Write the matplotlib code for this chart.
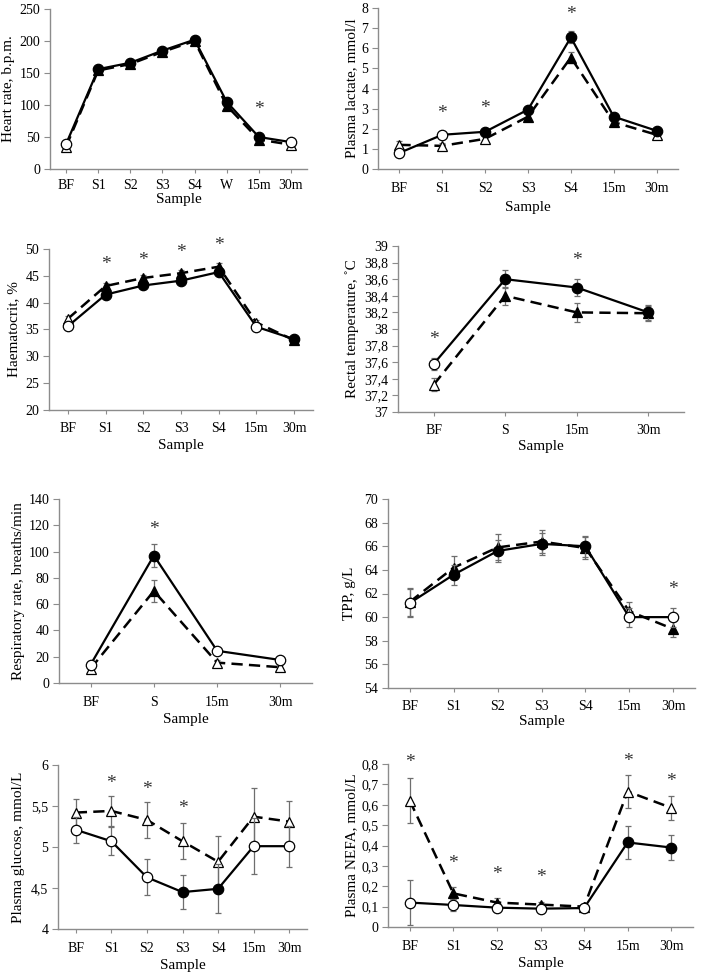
import matplotlib
matplotlib.use('Agg')
import matplotlib.pyplot as plt
from matplotlib.ticker import FixedLocator

plt.rcParams['font.family'] = ['Liberation Serif', 'DejaVu Serif']

W, H = 709, 974

# ---------------- categories ----------------
cats8 = ['BF', 'S1', 'S2', 'S3', 'S4', 'W', '15m', '30m']
cats7 = ['BF', 'S1', 'S2', 'S3', 'S4', '15m', '30m']
cats4 = ['BF', 'S', '15m', '30m']

# ---------------- Heart rate ----------------
hr_circ = [39, 156, 166, 185, 202, 105, 50, 42]
hr_circ_err = [3, 3, 3, 3, 3, 4, 3, 3]
hr_circ_fill = [0, 1, 1, 1, 1, 1, 1, 0]
hr_tri = [35, 154, 164, 183, 200, 99, 46, 38]
hr_tri_err = [3, 3, 3, 3, 3, 4, 3, 3]
hr_tri_fill = [0, 1, 1, 1, 1, 1, 1, 0]
hr_stars = [(6, 93)]
hr_yticks = [0, 50, 100, 150, 200, 250]
hr_yticklabels = ['0', '50', '100', '150', '200', '250']

# ---------------- Plasma lactate ----------------
la_circ = [0.8, 1.7, 1.85, 2.95, 6.54, 2.6, 1.9]
la_circ_err = [0.15, 0.12, 0.12, 0.15, 0.3, 0.12, 0.1]
la_circ_fill = [0, 0, 1, 1, 1, 1, 1]
la_tri = [1.2, 1.15, 1.5, 2.6, 5.54, 2.33, 1.7]
la_tri_err = [0.2, 0.12, 0.12, 0.15, 0.25, 0.12, 0.1]
la_tri_fill = [0, 0, 0, 1, 1, 1, 0]
la_stars = [(1, 2.77), (2, 3.0), (4, 7.67)]
la_yticks = [0, 1, 2, 3, 4, 5, 6, 7, 8]
la_yticklabels = ['0', '1', '2', '3', '4', '5', '6', '7', '8']

# ---------------- Haematocrit ----------------
ht_circ = [35.6, 41.5, 43.2, 44.1, 45.7, 35.5, 33.2]
ht_circ_err = [0.6, 0.6, 0.6, 0.6, 0.6, 0.5, 0.5]
ht_circ_fill = [0, 1, 1, 1, 1, 0, 1]
ht_tri = [37.0, 43.1, 44.6, 45.5, 46.7, 36.3, 33.0]
ht_tri_err = [0.6, 0.6, 0.6, 0.6, 0.6, 0.5, 0.5]
ht_tri_fill = [0, 1, 1, 1, 1, 0, 1]
ht_stars = [(1, 47.1), (2, 47.8), (3, 49.3), (4, 50.6)]
ht_yticks = [20, 25, 30, 35, 40, 45, 50]
ht_yticklabels = ['20', '25', '30', '35', '40', '45', '50']

# ---------------- Rectal temperature ----------------
rt_circ = [37.58, 38.6, 38.5, 38.2]
rt_circ_err = [0.07, 0.11, 0.1, 0.09]
rt_circ_fill = [0, 1, 1, 1]
rt_tri = [37.33, 38.4, 38.2, 38.19]
rt_tri_err = [0.08, 0.11, 0.11, 0.09]
rt_tri_fill = [0, 1, 1, 1]
rt_stars = [(0, 37.87), (2, 38.83)]
rt_yticks = [37, 37.2, 37.4, 37.6, 37.8, 38, 38.2, 38.4, 38.6, 38.8, 39]
rt_yticklabels = ['37', '37,2', '37,4', '37,6', '37,8', '38', '38,2', '38,4',
                  '38,6', '38,8', '39']

# ---------------- Respiratory rate ----------------
rr_circ = [14, 97, 24.5, 17.5]
rr_circ_err = [2, 8.5, 2, 2]
rr_circ_fill = [0, 1, 0, 0]
rr_tri = [11, 70, 15.5, 12]
rr_tri_err = [2, 8.5, 2, 2]
rr_tri_fill = [0, 1, 0, 0]
rr_stars = [(1, 117)]
rr_yticks = [0, 20, 40, 60, 80, 100, 120, 140]
rr_yticklabels = ['0', '20', '40', '60', '80', '100', '120', '140']

# ---------------- TPP ----------------
tp_circ = [61.2, 63.6, 65.6, 66.2, 66.0, 60.0, 60.0]
tp_circ_err = [1.2, 0.85, 0.9, 0.9, 0.9, 0.8, 0.8]
tp_circ_fill = [0, 1, 1, 1, 1, 0, 0]
tp_tri = [61.3, 64.2, 65.9, 66.4, 65.85, 60.5, 59.0]
tp_tri_err = [1.2, 0.95, 1.1, 1.0, 0.9, 0.8, 0.65]
tp_tri_fill = [0, 1, 1, 1, 1, 0, 1]
tp_stars = [(6, 62.3)]
tp_yticks = [54, 56, 58, 60, 62, 64, 66, 68, 70]
tp_yticklabels = ['54', '56', '58', '60', '62', '64', '66', '68', '70']

# ---------------- Plasma glucose ----------------
gl_circ = [5.21, 5.07, 4.63, 4.45, 4.49, 5.01, 5.01]
gl_circ_err = [0.16, 0.17, 0.22, 0.21, 0.3, 0.34, 0.25]
gl_circ_fill = [0, 0, 0, 1, 1, 0, 0]
gl_tri = [5.42, 5.44, 5.33, 5.07, 4.82, 5.37, 5.31]
gl_tri_err = [0.16, 0.18, 0.22, 0.22, 0.31, 0.35, 0.25]
gl_tri_fill = [0, 0, 0, 0, 0, 0, 0]
gl_stars = [(1, 5.78), (2, 5.70), (3, 5.47)]
gl_yticks = [4, 4.5, 5, 5.5, 6]
gl_yticklabels = ['4', '4,5', '5', '5,5', '6']

# ---------------- Plasma NEFA ----------------
ne_circ = [0.12, 0.108, 0.095, 0.09, 0.093, 0.415, 0.39]
ne_circ_err = [0.11, 0.03, 0.02, 0.02, 0.015, 0.08, 0.06]
ne_circ_fill = [0, 0, 0, 0, 0, 1, 1]
ne_tri = [0.62, 0.165, 0.12, 0.11, 0.10, 0.665, 0.585]
ne_tri_err = [0.11, 0.03, 0.02, 0.015, 0.015, 0.08, 0.06]
ne_tri_fill = [0, 1, 1, 1, 0, 0, 0]
ne_stars = [(0, 0.805), (1, 0.314), (2, 0.257), (3, 0.244), (5, 0.81), (6, 0.715)]
ne_yticks = [0, 0.1, 0.2, 0.3, 0.4, 0.5, 0.6, 0.7, 0.8]
ne_yticklabels = ['0', '0,1', '0,2', '0,3', '0,4', '0,5', '0,6', '0,7', '0,8']

# ---------------- panel table ----------------
panels = [
    dict(cats=cats8, circ=hr_circ, cerr=hr_circ_err, cfill=hr_circ_fill,
         tri=hr_tri, terr=hr_tri_err, tfill=hr_tri_fill, stars=hr_stars,
         yt=hr_yticks, ytl=hr_yticklabels, ylabel='Heart rate, b.p.m.',
         box=(50, 9, 307, 169), ylab_x=9, xlab_y=200, xpad=4),
    dict(cats=cats7, circ=la_circ, cerr=la_circ_err, cfill=la_circ_fill,
         tri=la_tri, terr=la_tri_err, tfill=la_tri_fill, stars=la_stars,
         yt=la_yticks, ytl=la_yticklabels, ylabel='Plasma lactate, mmol/l',
         box=(378, 8, 678, 169), ylab_x=352, xlab_y=207, xpad=6),
    dict(cats=cats7, circ=ht_circ, cerr=ht_circ_err, cfill=ht_circ_fill,
         tri=ht_tri, terr=ht_tri_err, tfill=ht_tri_fill, stars=ht_stars,
         yt=ht_yticks, ytl=ht_yticklabels, ylabel='Haematocrit, %',
         box=(49, 249, 313, 410), ylab_x=14, xlab_y=445, xpad=6),
    dict(cats=cats4, circ=rt_circ, cerr=rt_circ_err, cfill=rt_circ_fill,
         tri=rt_tri, terr=rt_tri_err, tfill=rt_tri_fill, stars=rt_stars,
         yt=rt_yticks, ytl=rt_yticklabels, ylabel='Rectal temperature, \u02daC',
         box=(398, 246, 684, 412), ylab_x=352, xlab_y=447, xpad=6),
    dict(cats=cats4, circ=rr_circ, cerr=rr_circ_err, cfill=rr_circ_fill,
         tri=rr_tri, terr=rr_tri_err, tfill=rr_tri_fill, stars=rr_stars,
         yt=rr_yticks, ytl=rr_yticklabels, ylabel='Respiratory rate, breaths/min',
         box=(59, 499, 312, 683), ylab_x=19, xlab_y=719, xpad=6),
    dict(cats=cats7, circ=tp_circ, cerr=tp_circ_err, cfill=tp_circ_fill,
         tri=tp_tri, terr=tp_tri_err, tfill=tp_tri_fill, stars=tp_stars,
         yt=tp_yticks, ytl=tp_yticklabels, ylabel='TPP, g/L',
         box=(388, 499, 695, 688), ylab_x=350, xlab_y=722, xpad=6),
    dict(cats=cats7, circ=gl_circ, cerr=gl_circ_err, cfill=gl_circ_fill,
         tri=gl_tri, terr=gl_tri_err, tfill=gl_tri_fill, stars=gl_stars,
         yt=gl_yticks, ytl=gl_yticklabels, ylabel='Plasma glucose, mmol/L',
         box=(58, 765, 307, 929), ylab_x=19, xlab_y=965, xpad=6),
    dict(cats=cats7, circ=ne_circ, cerr=ne_circ_err, cfill=ne_circ_fill,
         tri=ne_tri, terr=ne_tri_err, tfill=ne_tri_fill, stars=ne_stars,
         yt=ne_yticks, ytl=ne_yticklabels, ylabel='Plasma NEFA, mmol/L',
         box=(388, 764, 693, 927), ylab_x=352, xlab_y=963, xpad=6),
]

AXC = '#8c8c8c'
ERRC = '#6e6e6e'

fig = plt.figure(figsize=(W / 100, H / 100), dpi=100)

for p in panels:
    l, t, r, b = p['box']
    ax = fig.add_axes([l / W, 1 - b / H, (r - l) / W, (b - t) / H])
    n = len(p['cats'])
    xs = list(range(n))

    # triangles (dashed)
    ax.errorbar(xs, p['tri'], yerr=p['terr'], fmt='none', ecolor=ERRC,
                elinewidth=0.9, capsize=2.5, capthick=0.9, zorder=2)
    ax.plot(xs, p['tri'], color='black', lw=1.8, dashes=(4.5, 2.5), zorder=3)
    for x, y, f in zip(xs, p['tri'], p['tfill']):
        ax.plot([x], [y], marker='^', ms=7.5, mec='black', mew=0.9,
                mfc='black' if f else 'white', zorder=4, clip_on=False)

    # circles (solid)
    ax.errorbar(xs, p['circ'], yerr=p['cerr'], fmt='none', ecolor=ERRC,
                elinewidth=0.9, capsize=2.5, capthick=0.9, zorder=5)
    ax.plot(xs, p['circ'], color='black', lw=1.6, zorder=6)
    for x, y, f in zip(xs, p['circ'], p['cfill']):
        ax.plot([x], [y], marker='o', ms=7.5, mec='black', mew=0.9,
                mfc='black' if f else 'white', zorder=7, clip_on=False)

    for (ci, sy) in p['stars']:
        ax.text(ci, sy, '*', ha='center', va='center', fontsize=14,
                color='#333333', zorder=8, clip_on=False)

    ax.set_xlim(-0.5, n - 0.5)
    ax.set_ylim(p['yt'][0], p['yt'][-1])
    ax.xaxis.set_major_locator(FixedLocator(xs))
    ax.set_xticklabels(p['cats'], fontsize=10)
    ax.tick_params(axis='x', which='major', length=3, color=AXC,
                   direction='out', pad=p['xpad'])
    ax.yaxis.set_major_locator(FixedLocator(p['yt']))
    ax.set_yticklabels(p['ytl'], fontsize=10)
    ax.tick_params(axis='y', length=4, color=AXC, direction='out', pad=3)

    for s in ('top', 'right'):
        ax.spines[s].set_visible(False)
    for s in ('left', 'bottom'):
        ax.spines[s].set_color(AXC)
        ax.spines[s].set_linewidth(1.0)

    ax.set_xlabel('Sample', fontsize=11)
    ax.xaxis.set_label_coords(0.5, (b - p['xlab_y']) / (b - t))
    ax.xaxis.label.set_va('center')
    ax.set_ylabel(p['ylabel'], fontsize=11)
    ax.yaxis.set_label_coords((p['ylab_x'] - l) / (r - l), 0.5)
    ax.yaxis.label.set_va('center')

fig.savefig('out.png', dpi=100)
